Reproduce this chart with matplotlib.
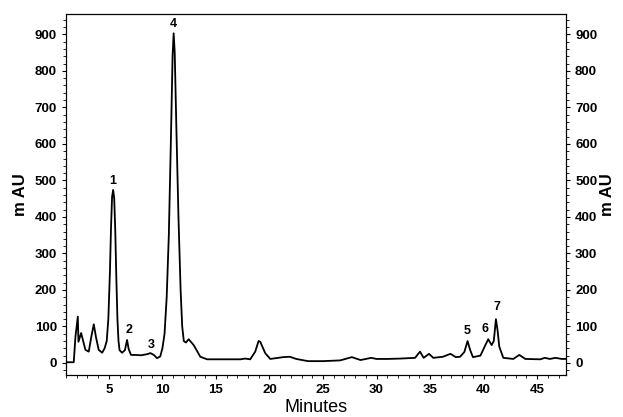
import numpy as np
import matplotlib.pyplot as plt
from matplotlib.ticker import MultipleLocator

plt.rcParams['font.family'] = ['Liberation Sans', 'DejaVu Sans']

# retention time (min) and absorbance (mAU)
minutes = [1.0, 1.72, 1.88, 2.1, 2.16, 2.41, 2.81, 3.12, 3.35, 3.59, 3.8, 4.05, 4.37, 4.6, 4.8,
           4.95, 5.1, 5.2, 5.3, 5.4, 5.5, 5.6, 5.7, 5.8, 5.9, 6.0, 6.23, 6.5, 6.7, 6.85, 7.07,
           7.5, 8.0, 8.57, 8.88, 9.2, 9.5, 9.8, 10.0, 10.2, 10.4, 10.6, 10.8, 10.95, 11.05,
           11.15, 11.3, 11.5, 11.7, 11.85, 12.0, 12.2, 12.45, 12.92, 13.54, 14.17, 15.0,
           16.0, 17.27, 17.74, 18.2, 18.67, 18.98, 19.14, 19.6, 20.07, 21.3, 21.9, 22.5, 23.6,
           25.0, 26.6, 27.7, 28.5, 29.5, 30.0, 31.0, 32.2, 33.6, 34.06, 34.4, 34.9, 35.3, 36.2,
           36.9, 37.4, 37.8, 38.2, 38.5, 38.75, 39.0, 39.7, 40.1, 40.43, 40.75, 40.95, 41.15,
           41.3, 41.46, 41.84, 42.77, 43.33, 43.9, 45.3, 45.7, 46.2, 46.7, 47.3, 47.7]
mau = [2, 2, 72, 127, 58, 82, 36, 31, 70, 106, 70, 36, 28, 40, 60,
       120, 250, 370, 455, 474, 450, 360, 230, 120, 60, 35, 28, 35, 63, 38, 22,
       22, 21, 24, 27, 22, 13, 18, 40, 80, 180, 350, 620, 840, 903,
       850, 650, 400, 200, 100, 60, 56, 65, 49, 17, 10, 10,
       10, 10, 12, 10, 31, 60, 58, 27, 11, 16, 17, 11, 5,
       5, 7, 16, 8, 14, 11, 11, 12, 14, 31, 14, 25, 14, 17,
       25, 16, 17, 30, 60, 35, 16, 20, 45, 65, 49, 60, 120,
       90, 45, 14, 11, 22, 11, 10, 14, 11, 14, 11, 11]

# peak numbers and where they are written
peak_labels = ['1', '2', '3', '4', '5', '6', '7']
peak_x = [5.36, 6.85, 8.94, 11.05, 38.5, 40.1, 41.2]
peak_y = [498, 90, 49, 928, 88, 92, 154]

fig = plt.figure(figsize=(6.23, 4.17), dpi=100)
ax = fig.add_axes([0.106, 0.1007, 0.8026, 0.865])

ax.plot(minutes, mau, color='black', lw=1.3)

for lab, px, py in zip(peak_labels, peak_x, peak_y):
    ax.text(px, py, lab, ha='center', va='center', fontsize=9, fontweight='bold')

ax.set_xlim(1.0, 47.7)
ax.set_ylim(-33, 955)
ax.set_xticks([5, 10, 15, 20, 25, 30, 35, 40, 45])
ax.set_yticks(np.arange(0, 901, 100))
ax.xaxis.set_minor_locator(MultipleLocator(1))
ax.yaxis.set_minor_locator(MultipleLocator(20))

ax.tick_params(which='major', length=3, width=0.8, labelsize=9.5)
ax.tick_params(which='minor', length=2, width=0.6)
for lbl in ax.get_xticklabels() + ax.get_yticklabels():
    lbl.set_fontweight('bold')

ax.set_xlabel('Minutes', fontsize=13, labelpad=2)
ax.set_ylabel('m AU', fontsize=12, fontweight='bold', labelpad=5)

ax2 = ax.twinx()
ax2.set_ylim(ax.get_ylim())
ax2.set_yticks(np.arange(0, 901, 100))
ax2.yaxis.set_minor_locator(MultipleLocator(20))
ax2.tick_params(which='major', length=3, width=0.8, labelsize=9.5)
ax2.tick_params(which='minor', length=2, width=0.6)
for lbl in ax2.get_yticklabels():
    lbl.set_fontweight('bold')
ax2.set_ylabel('m AU', fontsize=12, fontweight='bold', rotation=90, labelpad=2)

for a in (ax, ax2):
    for s in a.spines.values():
        s.set_linewidth(0.8)

fig.savefig('out.png', dpi=100)
